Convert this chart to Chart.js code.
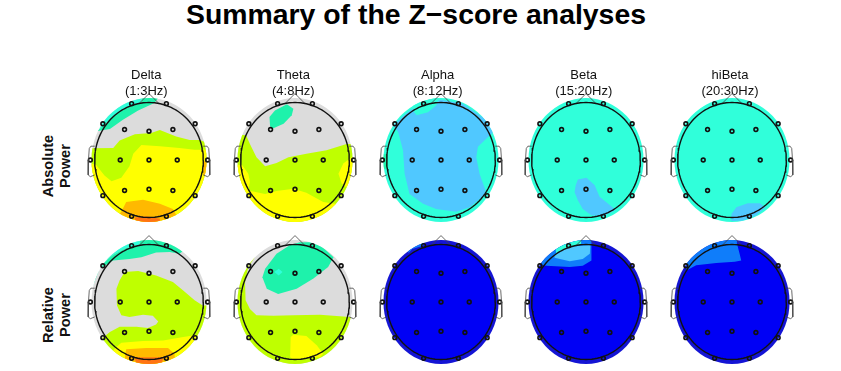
<!DOCTYPE html>
<html>
<head>
<meta charset="utf-8">
<script src="https://cdn.jsdelivr.net/npm/chart.js@4/dist/chart.umd.js"></script>
<style>
  html, body { margin: 0; background: #fff; }
  #page { position: relative; width: 841px; height: 371px; overflow: hidden; font-family: "Liberation Sans", Arial, sans-serif; color: #111; }
  #page canvas { position: absolute; }
  #title { position: absolute; left: 0; width: 832px; top: -2px; text-align: center; font-size: 28.4px; font-weight: bold; color: #000; white-space: nowrap; }
  .band { position: absolute; width: 120px; margin-left: -60px; text-align: center; font-size: 13px; line-height: 15.5px; top: 67px; z-index: 2; }
  .row { position: absolute; width: 120px; margin-left: -60px; margin-top: -17px; text-align: center; font-size: 14.6px; font-weight: bold; line-height: 17px; transform: rotate(-90deg); color: #111; }
</style>
</head>
<body>
<div id="page"></div>
<script>
/* Summary of the Z-score analyses: topographic maps, one small chart per head */

const titleText = "Summary of the Z\u2212score analyses";
const bands = ["Delta", "Theta", "Alpha", "Beta", "hiBeta"];
const freqRanges = ["(1:3Hz)", "(4:8Hz)", "(8:12Hz)", "(15:20Hz)", "(20:30Hz)"];
const rowLabels = ["Absolute", "Relative"];

// 10-20 electrodes, head radius = 1
const electrodeX = [-0.32, 0.32, -0.85, 0.85, -0.45, 0, 0.44, -1.08, -0.53, 0, 0.52, 1.08, -0.45, 0, 0.44, -0.85, 0.85, -0.32, 0.32];
const electrodeY = [0.98, 0.98, 0.63, 0.63, 0.53, 0.5, 0.53, 0, 0, 0, 0, 0, -0.53, -0.51, -0.53, -0.62, -0.62, -0.98, -0.98];

const noseX = [-0.18, 0, 0.18];
const noseY = [0.985, 1.155, 0.985];
const earX = [-1, -1.07, -1.1, -1.115, -1.12, -1.08, -1];
const earY = [0.24, 0.24, 0.2, 0, -0.26, -0.29, -0.26];

// z-score level of each contour
const levelColors = {
  navy: "#1414d4", blue: "#0000f5", sky: "#0f7dfa", light: "#50c8ff", cyan: "#30ffda",
  green: "#1ef2ab", grey: "#dcdcdc", lime: "#bfff00", yellow: "#ffff00", orange: "#ffb900", red: "#ff7414"
};

const whole = [[-1.31, 1.31], [1.31, 1.31], [1.31, -1.31], [-1.31, -1.31]];

// contours, painted in order
const deltaAbs = [
  ["grey", whole],
  ["cyan", [[-0.9, 0.55], [-0.64, 0.78], [-0.42, 0.91], [-0.14, 1], [-0.1, 1.3], [-1.3, 1.3], [-1.3, 0.55]]],
  ["green", [[-0.97, 0.5], [-0.72, 0.54], [-0.48, 0.7], [-0.2, 0.86], [0.1, 0.99], [0.17, 1.08], [0.2, 1.3], [-0.1, 1.3], [-0.14, 1], [-0.42, 0.91], [-0.64, 0.78], [-0.9, 0.55]]],
  ["lime", [[-1.3, 0.2], [-0.66, 0.21], [-0.54, 0.34], [-0.26, 0.45], [0.04, 0.47], [0.2, 0.52], [0.5, 0.41], [0.75, 0.35], [0.94, 0.35], [1.04, 0.31], [1.3, 0.3], [1.3, -1.3], [-1.3, -1.3]]],
  ["yellow", [[-1.3, -0.03], [-0.98, -0.08], [-0.82, -0.27], [-0.69, -0.37], [-0.51, -0.31], [-0.36, -0.11], [-0.29, 0.11], [-0.14, 0.26], [0.2, 0.24], [0.56, 0.21], [0.84, 0.18], [1.3, 0.18], [1.3, -1.3], [-1.3, -1.3]]],
  ["orange", [[-0.6, -1], [-0.51, -0.9], [-0.42, -0.73], [-0.11, -0.69], [0.2, -0.76], [0.44, -0.85], [0.56, -1.05], [0.56, -1.3], [-0.6, -1.3]]],
  ["orange", [[1, -0.02], [1, -0.27], [1.3, -0.27], [1.3, -0.02]]],
  ["red", [[-0.26, -1], [-0.05, -0.98], [0.2, -1.02], [0.2, -1.3], [-0.26, -1.3]]]
];
const thetaAbs = [
  ["grey", whole],
  ["lime", [[-1.3, 0.46], [-0.9, 0.43], [-0.83, 0.28], [-0.71, 0.05], [-0.55, -0.11], [-0.34, -0.05], [-0.12, 0.05], [0.21, 0.11], [0.58, 0.17], [0.95, 0.28], [1.3, 0.28], [1.3, -1.3], [-1.3, -1.3]]],
  ["yellow", [[-1.3, -0.06], [-0.97, -0.09], [-0.86, -0.24], [-0.83, -0.38], [-0.86, -0.53], [-0.55, -0.59], [-0.34, -0.54], [-0.03, -0.5], [0.21, -0.57], [0.52, -0.73], [0.8, -0.77], [0.95, -0.79], [1.3, -0.79], [1.3, -1.3], [-1.3, -1.3]]],
  ["yellow", [[1.3, 0.05], [1.04, 0.05], [0.89, -0.06], [0.8, -0.24], [0.86, -0.41], [0.98, -0.5], [1.3, -0.5]]],
  ["green", [[-0.46, 0.6], [-0.47, 0.75], [-0.37, 0.86], [-0.15, 0.97], [-0.03, 0.89], [-0.06, 0.78], [-0.21, 0.63], [-0.43, 0.54]]]
];
const alphaAbs = [
  ["cyan", whole],
  ["light", [[-0.88, 0.6], [-0.79, 0.49], [-0.7, 0.17], [-0.67, -0.24], [-0.58, -0.59], [-0.33, -0.76], [-0.09, -0.85], [0.28, -0.9], [0.53, -0.82], [0.8, -0.61], [0.82, -0.53], [0.71, -0.24], [0.65, 0.05], [0.68, 0.23], [0.9, 0.43], [0.98, 0.5], [0.8, 0.72], [0.4, 0.98], [0, 1.05], [-0.52, 0.9], [-0.7, 0.76]]],
  ["cyan", [[-0.52, 0.86], [-0.45, 0.78], [-0.24, 0.83], [-0.09, 0.95], [-0.04, 1.07], [-0.04, 1.3], [-0.52, 1.3]]],
  ["green", [[-1.3, 0.1], [-1.0, 0.1], [-0.97, -0.1], [-1.0, -0.15], [-1.3, -0.15]]]
];
const betaAbs = [
  ["cyan", whole],
  ["light", [[-0.19, -0.44], [-0.15, -0.34], [0.01, -0.31], [0.16, -0.44], [0.25, -0.64], [0.5, -0.83], [0.53, -0.88], [0.31, -0.98], [0.1, -0.96], [-0.06, -0.85], [-0.15, -0.7], [-0.21, -0.56]]]
];
const hiBetaAbs = [
  ["cyan", whole],
  ["light", [[-0.01, -0.94], [0.08, -0.82], [0.29, -0.75], [0.51, -0.75], [0.62, -0.82], [0.45, -0.96], [0.2, -1.05], [-0.01, -1.06]]]
];
const deltaRel = [
  ["grey", whole],
  ["cyan", [[-1.3, 0.23], [-1, 0.46], [-0.85, 0.67], [-0.66, 0.82], [-0.42, 0.94], [-0.17, 1], [-0.17, 1.3], [-1.3, 1.3]]],
  ["green", [[-1.04, 0.26], [-0.91, 0.58], [-0.66, 0.72], [-0.36, 0.75], [-0.14, 0.78], [0.13, 0.86], [0.38, 0.87], [0.56, 0.84], [0.69, 0.93], [0.69, 1.3], [-0.17, 1.3], [-0.17, 1], [-0.42, 0.94], [-0.66, 0.82], [-0.85, 0.67], [-1, 0.46]]],
  ["lime", [[-0.45, 0.52], [-0.2, 0.54], [0.13, 0.46], [0.44, 0.35], [0.63, 0.2], [0.84, 0.03], [0.99, -0.06], [1.3, -0.06], [1.3, -1.3], [-1.3, -1.3], [-1.3, -0.62], [-0.85, -0.62], [-0.72, -0.52], [-0.54, -0.43], [-0.23, -0.43], [-0.02, -0.45], [0.13, -0.39], [0.17, -0.34], [0.07, -0.24], [-0.11, -0.22], [-0.36, -0.26], [-0.51, -0.23], [-0.59, -0.06], [-0.6, 0.23], [-0.54, 0.38]]],
  ["yellow", [[-0.7, -0.9], [-0.63, -0.81], [-0.51, -0.71], [-0.11, -0.68], [0.26, -0.67], [0.63, -0.61], [0.84, -0.58], [1.3, -0.58], [1.3, -1.3], [-0.7, -1.3]]],
  ["orange", [[-0.45, -1], [-0.42, -0.82], [-0.05, -0.8], [0.35, -0.8], [0.47, -0.9], [0.5, -1.3], [-0.45, -1.3]]],
  ["red", [[-0.26, -0.96], [0.26, -0.96], [0.2, -1.3], [-0.2, -1.3]]]
];
const thetaRel = [
  ["grey", whole],
  ["lime", [[-1.3, 0.78], [-0.74, 0.78], [-0.86, 0.61], [-0.92, 0.34], [-0.91, 0.03], [-0.83, -0.12], [-0.71, -0.23], [-0.4, -0.24], [-0.03, -0.23], [0.46, -0.22], [1.01, -0.26], [1.3, -0.26], [1.3, -1.3], [-1.3, -1.3]]],
  ["yellow", [[-0.08, -0.61], [-0.03, -0.57], [0.21, -0.59], [0.4, -0.75], [0.52, -0.9], [0.46, -0.96], [-0.03, -1], [-0.09, -0.96]]],
  ["green", [[-0.6, 0.43], [-0.55, 0.58], [-0.34, 0.84], [-0.09, 0.99], [0.09, 1.04], [0.28, 1.04], [0.49, 0.97], [0.71, 0.78], [0.61, 0.61], [0.34, 0.41], [0.03, 0.23], [-0.31, 0.14], [-0.52, 0.23]]],
  ["cyan", [[-0.38, 0.52], [-0.3, 0.58], [-0.23, 0.52], [-0.3, 0.46]]]
];
const alphaRel = [
  ["navy", whole],
  ["blue", "head"],
  ["sky", [[-0.6, 0.85], [-0.53, 0.92], [-0.33, 0.98], [-0.33, 1.2], [-0.6, 1.2]]]
];
const betaRel = [
  ["navy", whole],
  ["blue", "head"],
  ["sky", [[-0.82, 0.65], [-0.73, 0.63], [-0.3, 0.61], [-0.06, 0.63], [0.1, 0.72], [0.1, 1.3], [-0.82, 1.3]]],
  ["light", [[-0.58, 0.77], [-0.3, 0.71], [-0.06, 0.75], [0.07, 0.84], [0.08, 0.99], [-0.3, 0.96], [-0.58, 0.82]]],
  ["cyan", [[-0.55, 0.85], [-0.3, 0.96], [-0.09, 1], [-0.09, 1.3], [-0.6, 1.3]]]
];
const hiBetaRel = [
  ["navy", whole],
  ["blue", "head"],
  ["sky", [[-0.84, 0.55], [-0.66, 0.64], [-0.29, 0.68], [0.05, 0.7], [0.17, 0.72], [0.14, 0.84], [0.09, 1.02], [0.1, 1.3], [-0.84, 1.3]]]
];
const mapRows = [
  [deltaAbs, thetaAbs, alphaAbs, betaAbs, hiBetaAbs],
  [deltaRel, thetaRel, alphaRel, betaRel, hiBetaRel]
];

// layout of the panels, in page pixels
const headCenterX = [149.3, 295, 441.3, 586.3, 732.3];
const headCenterY = [159.7, 301.7];
const bandLabelX = [146.3, 293.3, 437.7, 583.7, 730];
const rowLabelY = [166, 315];
const headRx = 54.3, headRy = 57.5;   // px per unit
const mapRx = 1.06, mapRy = 1.08;
const canvasW = 142, canvasH = 150;

function headOutline() {
  const pts = [];
  for (let i = 0; i <= 120; i++) {
    const a = (i / 120) * Math.PI * 2;
    pts.push({ x: Math.cos(a), y: Math.sin(a) });
  }
  return pts;
}

const toPoints = (xs, ys) => xs.map((x, i) => ({ x, y: ys[i] }));

// contours are filled here from the points the scales placed, cut to the map ellipse
const contourFill = {
  id: "contourFill",
  beforeDatasetsDraw(chart) {
    const { ctx, scales: { x, y } } = chart;
    ctx.save();
    ctx.beginPath();
    ctx.ellipse(x.getPixelForValue(0), y.getPixelForValue(0),
      Math.abs(x.getPixelForValue(mapRx) - x.getPixelForValue(0)),
      Math.abs(y.getPixelForValue(mapRy) - y.getPixelForValue(0)), 0, 0, Math.PI * 2);
    ctx.clip();
    chart.data.datasets.forEach((ds, i) => {
      if (!ds.contour) return;
      const pts = chart.getDatasetMeta(i).data;
      ctx.beginPath();
      pts.forEach((p, j) => (j ? ctx.lineTo(p.x, p.y) : ctx.moveTo(p.x, p.y)));
      ctx.closePath();
      ctx.fillStyle = ds.backgroundColor;
      ctx.fill();
    });
    ctx.restore();
  },
};

function drawHead(host, contours, left, top) {
  const canvas = document.createElement("canvas");
  canvas.width = canvasW;
  canvas.height = canvasH;
  canvas.style.left = left + "px";
  canvas.style.top = top + "px";
  host.appendChild(canvas);

  const outline = headOutline();
  const datasets = contours.map(([level, shape]) => ({
    contour: true,
    label: level,
    data: shape === "head" ? outline : shape.map(([x, y]) => ({ x, y })),
    backgroundColor: levelColors[level],
    showLine: false,
    pointRadius: 0,
  }));
  const lineStyle = { showLine: true, pointRadius: 0, fill: false, tension: 0 };
  datasets.push({ ...lineStyle, data: outline, borderColor: "#111", borderWidth: 1.4 });
  datasets.push({ ...lineStyle, data: toPoints(noseX, noseY), borderColor: "#444", borderWidth: 0.8 });
  datasets.push({ ...lineStyle, data: toPoints(earX, earY), borderColor: "#444", borderWidth: 0.8 });
  datasets.push({ ...lineStyle, data: toPoints(earX.map((v) => -v), earY), borderColor: "#444", borderWidth: 0.8 });
  datasets.push({
    data: toPoints(electrodeX, electrodeY),
    showLine: false,
    pointRadius: 1.9,
    pointBorderWidth: 1.6,
    pointBorderColor: "#111",
    pointBackgroundColor: "rgba(0,0,0,0)",
    clip: false,
  });

  new Chart(canvas, {
    type: "scatter",
    data: { datasets },
    plugins: [contourFill],
    options: {
      responsive: false,
      animation: false,
      events: [],
      layout: { padding: 0, autoPadding: false },
      plugins: { legend: { display: false }, tooltip: { enabled: false } },
      scales: {
        x: { type: "linear", display: false, min: -canvasW / 2 / headRx, max: canvasW / 2 / headRx },
        y: { type: "linear", display: false, min: -canvasH / 2 / headRy, max: canvasH / 2 / headRy },
      },
    },
  });
}

const page = document.getElementById("page");

const title = document.createElement("div");
title.id = "title";
title.textContent = titleText;
page.appendChild(title);

bands.forEach((band, i) => {
  const el = document.createElement("div");
  el.className = "band";
  el.style.left = bandLabelX[i] + "px";
  el.innerHTML = `${band}<br>${freqRanges[i]}`;
  page.appendChild(el);
});

rowLabels.forEach((label, r) => {
  const el = document.createElement("div");
  el.className = "row";
  el.style.left = "56.5px";
  el.style.top = rowLabelY[r] + "px";
  el.innerHTML = `${label}<br>Power`;
  page.appendChild(el);
});

mapRows.forEach((row, r) => {
  row.forEach((contours, c) => {
    drawHead(page, contours, headCenterX[c] - canvasW / 2, headCenterY[r] - canvasH / 2);
  });
});
</script>
</body>
</html>
